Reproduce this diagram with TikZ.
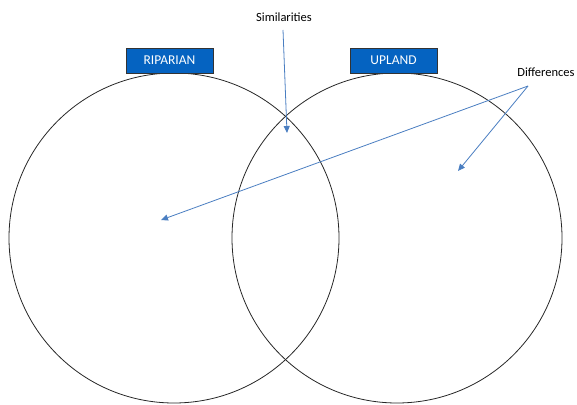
\documentclass[tikz,border=0pt]{standalone}
\usepackage{fontspec}
\setmainfont{Carlito}
\usetikzlibrary{arrows.meta}
\definecolor{arr}{RGB}{74,126,193}
\definecolor{boxblue}{RGB}{5,99,193}
\begin{document}
\begin{tikzpicture}[x=1pt,y=-1pt,
  lbl/.style={font=\fontsize{12.5}{14}\selectfont, inner sep=0pt},
  hdr/.style={draw=black!80, fill=boxblue, text=white, font=\fontsize{13.5}{15}\selectfont, minimum width=87pt, minimum height=25pt, inner sep=0pt, line width=0.8pt},
  ring/.style={draw=black!85, line width=0.8pt},
  pointer/.style={draw=arr, line width=0.8pt, -{Triangle[length=7pt,width=6pt]}}]
\useasboundingbox (0,0) rectangle (577,404);
\draw[ring] (174,238) circle (165);
\draw[ring] (397,238) circle (165);
\node[hdr] (rip) at (169.5,60.5) {RIPARIAN};
\node[hdr] (upl) at (393.5,60.5) {UPLAND};
\node[lbl] (sim) at (284,17) {Similarities};
\node[lbl] (dif) at (546,72) {Differences};
\coordinate (simS) at (283,30);
\coordinate (simE) at (287,133);
\coordinate (difS) at (528,86);
\coordinate (difA) at (161,220);
\coordinate (difB) at (458,171);
\draw[pointer] (simS) -- (simE);
\draw[pointer] (difS) -- (difA);
\draw[pointer] (difS) -- (difB);
\end{tikzpicture}
\end{document}
